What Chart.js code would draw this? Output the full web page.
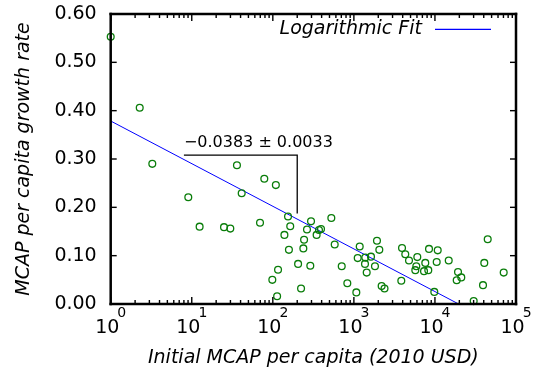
<!DOCTYPE html>
<html>
<head>
<meta charset="utf-8">
<script src="https://cdn.jsdelivr.net/npm/chart.js@4.4.0/dist/chart.umd.min.js"></script>
<style>
  html, body { margin: 0; padding: 0; background: #fff; }
  #chart { display: block; }
</style>
</head>
<body>
<canvas id="chart" width="545" height="375"></canvas>
<script>
// initial MCAP per capita (2010 USD) and growth rate
const mcapX = [1.0, 2.28, 3.26, 9.06, 12.5, 25.0, 29.9, 36.1, 41.3, 69.5, 78.5, 98.6, 109, 113, 116, 139, 154, 158, 164,
    205, 223, 238, 243, 264, 290, 296, 347, 371, 393, 527, 580, 708, 830, 1072, 1115, 1180, 1371, 1383, 1439, 1626,
    1820, 1927, 2060, 2200, 2387, 3846, 3925, 4306, 4786, 5725, 5890, 6060, 7330, 7600, 8280, 8450, 9820, 10510,
    10820, 14790, 18550, 19260, 21140, 30060, 39170, 40620, 44770, 70500];
const growthY = [0.553, 0.406, 0.290, 0.221, 0.160, 0.159, 0.156, 0.287, 0.229, 0.168, 0.259, 0.050, 0.246, 0.016, 0.071, 0.143, 0.181, 0.112, 0.161,
    0.083, 0.032, 0.115, 0.133, 0.154, 0.079, 0.171, 0.143, 0.153, 0.155, 0.178, 0.123, 0.078, 0.043, 0.024, 0.095, 0.119, 0.083, 0.096, 0.065, 0.098,
    0.078, 0.131, 0.112, 0.037, 0.032, 0.048, 0.116, 0.103, 0.090, 0.070, 0.078, 0.097, 0.068, 0.085, 0.070, 0.114, 0.025, 0.087,
    0.111, 0.090, 0.049, 0.066, 0.055, 0.006, 0.039, 0.085, 0.134, 0.065];

// logarithmic fit end points (straight on a log x axis)
const fitX = [1, 19600];
const fitY = [0.3786, 0];

// slope marker
const slopeX = [8, 200, 200];
const slopeY = [0.308, 0.308, 0.187];
const slopeLabel = '\u22120.0383 \u00b1 0.0033';

const xDecades = [0, 1, 2, 3, 4, 5];
const yTicks = [0, 0.1, 0.2, 0.3, 0.4, 0.5, 0.6];
const fitLabel = 'Logarithmic Fit';

const FONT = 'DejaVu Sans';
const toPts = (xs, ys) => xs.map((x, i) => ({ x: x, y: ys[i] }));

// frame, inward ticks, tick labels, legend and slope text
const framePlugin = {
    id: 'frame',
    afterDraw(chart) {
        const ctx = chart.ctx, a = chart.chartArea;
        const xs = chart.scales.x, ys = chart.scales.y;
        const L = a.left, R = a.right, T = a.top, B = a.bottom;
        ctx.save();
        ctx.fillStyle = '#000';
        ctx.fillRect(L - 1.25, T - 1.25, R - L + 2.5, 2.5);
        ctx.fillRect(L - 1.25, B - 1.25, R - L + 2.5, 2.5);
        ctx.fillRect(L - 1.25, T - 1.25, 2.5, B - T + 2.5);
        ctx.fillRect(R - 1.25, T - 1.25, 2.5, B - T + 2.5);

        xDecades.forEach(k => {
            for (let m = 1; m < 10; m++) {
                const v = m * Math.pow(10, k);
                if (v > 1e5) break;
                const px = xs.getPixelForValue(v);
                const len = m === 1 ? 7 : 4;
                ctx.fillRect(px - 0.7, B - len, 1.4, len);
                ctx.fillRect(px - 0.7, T, 1.4, len);
            }
        });
        yTicks.forEach(v => {
            const py = ys.getPixelForValue(v);
            ctx.fillRect(L, py - 0.7, 6, 1.4);
            ctx.fillRect(R - 6, py - 0.7, 6, 1.4);
        });

        // y labels
        ctx.font = '19px "' + FONT + '"';
        ctx.textAlign = 'right';
        ctx.textBaseline = 'middle';
        yTicks.forEach(v => ctx.fillText(v.toFixed(2), a.left - 14, ys.getPixelForValue(v)));

        // 10^k labels
        ctx.textBaseline = 'alphabetic';
        ctx.textAlign = 'left';
        xDecades.forEach(k => {
            const px = xs.getPixelForValue(Math.pow(10, k));
            ctx.font = '19px "' + FONT + '"';
            const w1 = ctx.measureText('10').width;
            ctx.font = '14px "' + FONT + '"';
            const w2 = ctx.measureText(String(k)).width;
            const x0 = px - (w1 + w2 - 2) / 2;
            ctx.font = '19px "' + FONT + '"';
            ctx.fillText('10', x0, a.bottom + 29);
            ctx.font = '14px "' + FONT + '"';
            ctx.fillText(String(k), x0 + w1 - 2, a.bottom + 13);
        });

        // legend
        ctx.font = 'italic 19px "' + FONT + '"';
        ctx.textAlign = 'right';
        ctx.textBaseline = 'middle';
        ctx.fillText(fitLabel, R - 94, T + 15);
        ctx.strokeStyle = '#0000ff';
        ctx.lineWidth = 1.2;
        ctx.beginPath();
        ctx.moveTo(R - 81, T + 15.3); ctx.lineTo(R - 25, T + 15.3);
        ctx.stroke();

        // slope value
        ctx.font = '16px "' + FONT + '"';
        ctx.textAlign = 'left';
        ctx.textBaseline = 'alphabetic';
        ctx.fillText(slopeLabel, xs.getPixelForValue(slopeX[0]), ys.getPixelForValue(slopeY[0]) - 8);
        ctx.restore();
    }
};

new Chart(document.getElementById('chart'), {
    type: 'scatter',
    data: {
        datasets: [
            { data: toPts(mcapX, growthY), pointStyle: 'circle', pointRadius: 3.4, borderWidth: 1.3,
              borderColor: '#0a7d0a', backgroundColor: 'rgba(0,0,0,0)', clip: false },
            { data: toPts(fitX, fitY), showLine: true, pointRadius: 0, borderColor: '#0000ff', borderWidth: 1 },
            { data: toPts(slopeX, slopeY), showLine: true, pointRadius: 0, borderColor: '#000', borderWidth: 1.3 }
        ]
    },
    options: {
        responsive: false,
        animation: false,
        events: [],
        layout: { padding: { top: 14, right: 29, bottom: 0, left: 0 } },
        plugins: { legend: { display: false }, tooltip: { enabled: false } },
        scales: {
            x: {
                type: 'logarithmic', min: 1, max: 1e5,
                grid: { display: false, drawTicks: false }, border: { display: false },
                ticks: { display: false },
                title: { display: true, text: 'Initial MCAP per capita (2010 USD)', color: '#000',
                         font: { family: FONT, size: 19, style: 'italic' }, padding: { top: 42.6, bottom: 5.6 } }
            },
            y: {
                min: 0, max: 0.6,
                grid: { display: false, drawTicks: false }, border: { display: false },
                ticks: { display: false },
                title: { display: true, text: 'MCAP per capita growth rate', color: '#000',
                         font: { family: FONT, size: 19, style: 'italic' }, padding: { top: 12.6, bottom: 75.3 } }
            }
        }
    },
    plugins: [framePlugin]
});
</script>
</body>
</html>
